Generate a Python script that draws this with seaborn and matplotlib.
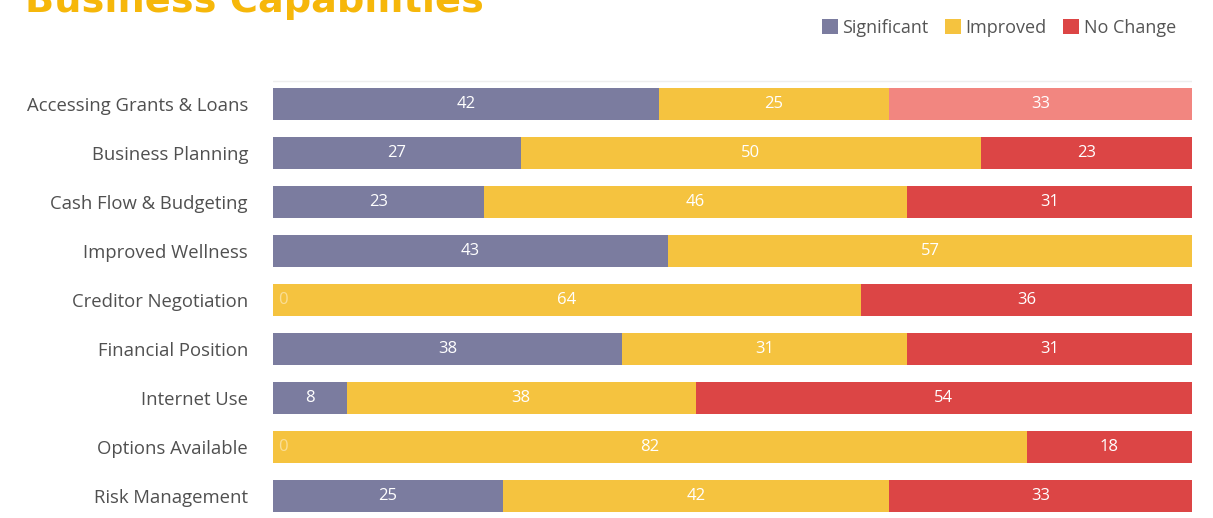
import matplotlib
matplotlib.use("Agg")
import matplotlib.pyplot as plt
import seaborn as sns
import numpy as np
import pandas as pd
from matplotlib.patches import Patch

categories = [
    "Accessing Grants & Loans",
    "Business Planning",
    "Cash Flow & Budgeting",
    "Improved Wellness",
    "Creditor Negotiation",
    "Financial Position",
    "Internet Use",
    "Options Available",
    "Risk Management",
]
significant = [42, 27, 23, 43, 0, 38, 8, 0, 25]
improved = [25, 50, 46, 57, 64, 31, 38, 82, 42]
no_change = [33, 23, 31, 0, 36, 31, 54, 18, 33]
series_names = ["Significant", "Improved", "No Change"]

C_SIG = "#7b7c9f"
C_IMP = "#f5c33f"
C_NO = "#dc4545"
C_NO_LIGHT = "#f28680"

sns.set_theme(style="white")
plt.rcParams["font.family"] = ["Open Sans", "DejaVu Sans"]

df = pd.DataFrame({
    "category": categories,
    "significant": significant,
    "improved": improved,
    "no_change": no_change,
})
df["cum_imp"] = df["significant"] + df["improved"]
df["cum_all"] = df["cum_imp"] + df["no_change"]

fig = plt.figure(figsize=(12.13, 5.18), dpi=100)
ax = fig.add_axes([273 / 1213, 0.0, (1192 - 273) / 1213, (518 - 79.5) / 518])

bar_w = 0.64
# stacked layers: totals first, then overlay the shorter cumulative bars
sns.barplot(data=df, x="cum_all", y="category", color=C_NO, saturation=1,
            width=bar_w, orient="h", ax=ax)
sns.barplot(data=df, x="cum_imp", y="category", color=C_IMP, saturation=1,
            width=bar_w, orient="h", ax=ax)
sns.barplot(data=df, x="significant", y="category", color=C_SIG, saturation=1,
            width=bar_w, orient="h", ax=ax)

# first row's "No Change" segment is highlighted in a lighter tone
ax.patches[0].set_facecolor(C_NO_LIGHT)
for p in ax.patches:
    p.set_edgecolor("none")

# value labels centred in each segment
for i in range(len(categories)):
    s, m, n = significant[i], improved[i], no_change[i]
    segs = [(0, s), (s, m), (s + m, n)]
    for left, val in segs:
        if val > 0:
            ax.text(left + val / 2, i, f"{val}", ha="center", va="center",
                    color="white", fontsize=12)
    if s == 0:
        ax.text(0.6, i, "0", ha="left", va="center", color="white",
                fontsize=12, alpha=0.45)

ax.set_xlim(0, 100)
ax.set_ylim(8 + 22 / 49, -0.5)
ax.axhline(-0.47, color="#eeeeee", lw=1)
for sp in ax.spines.values():
    sp.set_visible(False)
ax.set_xlabel("")
ax.set_ylabel("")
ax.set_xticks([])
ax.tick_params(axis="y", length=0, pad=18, labelsize=13.3, labelcolor="#505050")

fig.text(25 / 1213, 1 - 12 / 518, "Business Capabilities", fontsize=27.5,
         fontweight="bold", color="#f6b70a", ha="left", va="baseline",
         family=["DejaVu Sans"])

handles = [Patch(facecolor=c, edgecolor="none") for c in (C_SIG, C_IMP, C_NO)]
fig.legend(handles, series_names, loc="upper right", bbox_to_anchor=(0.983, 0.995),
           ncol=3, frameon=False, fontsize=13, handlelength=0.9, handleheight=0.9,
           handletextpad=0.25, columnspacing=0.9, labelcolor="#555555")

fig.savefig("out.png", dpi=100, facecolor="white")
